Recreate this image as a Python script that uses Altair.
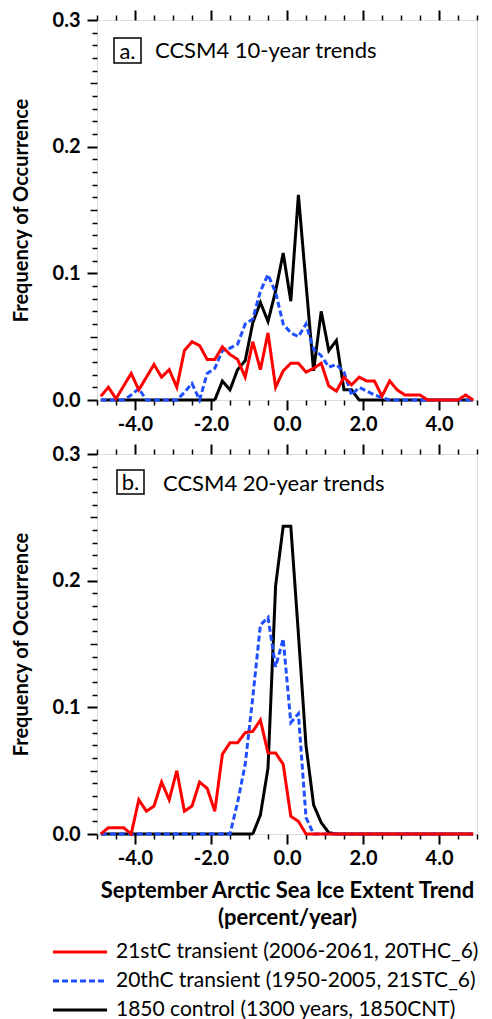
import altair as alt
import pandas as pd

# ---------------- data ----------------
trend = [-4.9, -4.7, -4.5, -4.3, -4.1, -3.9, -3.7, -3.5, -3.3, -3.1,
         -2.9, -2.7, -2.5, -2.3, -2.1, -1.9, -1.7, -1.5, -1.3, -1.1,
         -0.9, -0.7, -0.5, -0.3, -0.1, 0.1, 0.3, 0.5, 0.7, 0.9,
         1.1, 1.3, 1.5, 1.7, 1.9, 2.1, 2.3, 2.5, 2.7, 2.9,
         3.1, 3.3, 3.5, 3.7, 3.9, 4.1, 4.3, 4.5, 4.7, 4.9]

# panel a: 10-year trends
red10 = [0.003, 0.010, 0.001, 0.011, 0.021, 0.008, 0.018, 0.028, 0.018, 0.024,
         0.010, 0.039, 0.046, 0.043, 0.032, 0.032, 0.042, 0.036, 0.032, 0.018,
         0.046, 0.024, 0.053, 0.010, 0.023, 0.029, 0.029, 0.022, 0.025, 0.029,
         0.011, 0.007, 0.018, 0.012, 0.018, 0.015, 0.015, 0.003, 0.015, 0.008,
         0.004, 0.004, 0.004, 0.0, 0.0, 0.0, 0.0, 0.0, 0.004, 0.0]
blue10 = [0.0, 0.0, 0.0, 0.0, 0.004, 0.009, 0.0, 0.0, 0.0, 0.0,
          0.0, 0.006, 0.013, 0.0, 0.021, 0.025, 0.039, 0.041, 0.044, 0.060,
          0.064, 0.086, 0.099, 0.085, 0.060, 0.053, 0.050, 0.060, 0.040, 0.035,
          0.026, 0.028, 0.022, 0.004, 0.010, 0.007, 0.004, 0.002, 0.0, 0.0,
          0.0, 0.0, 0.0, 0.0, 0.0, 0.0, 0.0, 0.0, 0.0, 0.0]
black10 = [0.0, 0.0, 0.0, 0.0, 0.0, 0.0, 0.0, 0.0, 0.0, 0.0,
           0.0, 0.0, 0.0, 0.0, 0.0, 0.0, 0.015, 0.008, 0.024, 0.031,
           0.061, 0.077, 0.062, 0.086, 0.116, 0.078, 0.162, 0.092, 0.023, 0.070,
           0.039, 0.047, 0.008, 0.008, 0.0, 0.0, 0.0, 0.0, 0.0, 0.0,
           0.0, 0.0, 0.0, 0.0, 0.0, 0.0, 0.0, 0.0, 0.0, 0.0]

# panel b: 20-year trends
red20 = [0.0, 0.005, 0.005, 0.005, 0.0, 0.027, 0.018, 0.022, 0.041, 0.027,
         0.050, 0.018, 0.022, 0.041, 0.036, 0.018, 0.063, 0.072, 0.072, 0.080,
         0.081, 0.090, 0.064, 0.064, 0.055, 0.014, 0.010, 0.0, 0.0, 0.0,
         0.0, 0.0, 0.0, 0.0, 0.0, 0.0, 0.0, 0.0, 0.0, 0.0,
         0.0, 0.0, 0.0, 0.0, 0.0, 0.0, 0.0, 0.0, 0.0, 0.0]
blue20 = [0.0, 0.0, 0.0, 0.0, 0.0, 0.0, 0.0, 0.0, 0.0, 0.0,
          0.0, 0.0, 0.0, 0.0, 0.0, 0.0, 0.0, 0.0, 0.025, 0.055,
          0.108, 0.165, 0.171, 0.132, 0.154, 0.088, 0.095, 0.013, 0.0, 0.0,
          0.0, 0.0, 0.0, 0.0, 0.0, 0.0, 0.0, 0.0, 0.0, 0.0,
          0.0, 0.0, 0.0, 0.0, 0.0, 0.0, 0.0, 0.0, 0.0, 0.0]
black20 = [0.0, 0.0, 0.0, 0.0, 0.0, 0.0, 0.0, 0.0, 0.0, 0.0,
           0.0, 0.0, 0.0, 0.0, 0.0, 0.0, 0.0, 0.0, 0.0, 0.0,
           0.0, 0.015, 0.052, 0.196, 0.243, 0.243, 0.158, 0.070, 0.023, 0.009,
           0.001, 0.0, 0.0, 0.0, 0.0, 0.0, 0.0, 0.0, 0.0, 0.0,
           0.0, 0.0, 0.0, 0.0, 0.0, 0.0, 0.0, 0.0, 0.0, 0.0]

series_names = ["21stC transient (2006-2061, 20THC_6)",
                "20thC transient (1950-2005, 21STC_6)",
                "1850 control (1300 years, 1850CNT)"]
series_colors = ["#ff0000", "#1f4fff", "#000000"]
series_dashes = [[1, 0], [6, 3], [1, 0]]

panel_tags = ["a.", "b."]
panel_titles = ["CCSM4 10-year trends", "CCSM4 20-year trends"]

x_major = [-4, -2, 0, 2, 4]
x_minor = [-5, -4.5, -3.5, -3, -2.5, -1.5, -1, -0.5, 0.5, 1, 1.5, 2.5, 3, 3.5, 4.5, 5]
y_major = [0.0, 0.1, 0.2, 0.3]
y_mid = [0.05, 0.15, 0.25]
y_minor = [round(i * 0.01, 2) for i in range(31) if i % 5 != 0]

FONT = "Lato"
LBL = "datum.value == 0 ? '0.0' : (datum.value < 0 ? '-' : '') + format(abs(datum.value), '.1f')"

xs = alt.Scale(domain=[-5, 5], nice=False, zero=False)
ys = alt.Scale(domain=[0, 0.3], nice=False, zero=True)
cs = alt.Scale(domain=series_names, range=series_colors)
ds = alt.Scale(domain=series_names, range=series_dashes)


def make_df(red, blue, black):
    rows = []
    for name, vals in zip(series_names, [red, blue, black]):
        for t, v in zip(trend, vals):
            rows.append({"trend": t, "freq": v, "series": name})
    return pd.DataFrame(rows)


def tick_axis(orient, values, size, width=1.5):
    return alt.Axis(orient=orient, values=values, tickSize=size, tickWidth=width,
                    tickColor="black", labels=False, domain=False, grid=False, title=None)


def panel(df, idx, show_xtitle):
    xtitle = ["September Arctic Sea Ice Extent Trend", "(percent/year)"] if show_xtitle else None
    x_main_axis = alt.Axis(orient="bottom", values=x_major, labelExpr=LBL, tickSize=10, tickWidth=2,
                           tickColor="black", domain=False, grid=False, labelFont=FONT,
                           labelFontSize=20, labelFontWeight="bold", labelColor="black",
                           labelPadding=4, title=xtitle, titleFont=FONT, titleFontSize=22,
                           titleFontWeight="bold", titleColor="black", titlePadding=12,
                           titleLineHeight=27)
    y_main_axis = alt.Axis(orient="left", values=y_major, format=".1f", tickSize=10, tickWidth=2,
                           tickColor="black", domain=False, grid=False, labelFont=FONT,
                           labelFontSize=20, labelFontWeight="bold", labelColor="black",
                           labelPadding=7, title="Frequency of Occurrence", titleFont=FONT,
                           titleFontSize=20, titleFontWeight="bold", titleColor="black",
                           titlePadding=21)
    layers = []
    # draw black first, then blue, then red on top
    for k, name in enumerate([series_names[2], series_names[1], series_names[0]]):
        enc = dict(
            x=alt.X("trend:Q", scale=xs, axis=x_main_axis if k == 0 else None),
            y=alt.Y("freq:Q", scale=ys, axis=y_main_axis if k == 0 else None),
            color=alt.Color("series:N", scale=cs, legend=None),
            strokeDash=alt.StrokeDash("series:N", scale=ds, legend=None),
        )
        layers.append(
            alt.Chart(df).transform_filter(alt.datum.series == name)
            .mark_line(strokeWidth=3, clip=False).encode(**enc)
        )
    ghost = alt.Chart(df).mark_point(opacity=0)
    layers += [
        ghost.encode(x=alt.X("trend:Q", scale=xs, axis=tick_axis("bottom", x_minor, 5)),
                     y=alt.Y("freq:Q", scale=ys, axis=None)),
        ghost.encode(x=alt.X("trend:Q", scale=xs, axis=tick_axis("top", x_major, 10, 2)),
                     y=alt.Y("freq:Q", scale=ys, axis=None)),
        ghost.encode(x=alt.X("trend:Q", scale=xs, axis=tick_axis("top", x_minor, 5)),
                     y=alt.Y("freq:Q", scale=ys, axis=None)),
        ghost.encode(x=alt.X("trend:Q", scale=xs, axis=None),
                     y=alt.Y("freq:Q", scale=ys, axis=tick_axis("left", y_mid, 7))),
        ghost.encode(x=alt.X("trend:Q", scale=xs, axis=None),
                     y=alt.Y("freq:Q", scale=ys, axis=tick_axis("left", y_minor, 5))),
    ]
    lab = pd.DataFrame({"tag": [panel_tags[idx]], "title": [panel_titles[idx]]})
    bx = [17, 44] if idx == 0 else [20, 47]
    by = [18, 43] if idx == 0 else [16, 40]
    tx = 58 if idx == 0 else 66
    ty = 31 if idx == 0 else 30
    base = alt.Chart(lab)
    layers += [
        base.mark_rect(fill="white", stroke="black", strokeWidth=1.5).encode(
            x=alt.value(bx[0]), x2=alt.value(bx[1]), y=alt.value(by[0]), y2=alt.value(by[1])),
        base.mark_text(font=FONT, fontSize=22, color="black", align="center", baseline="middle").encode(
            x=alt.value((bx[0] + bx[1]) / 2), y=alt.value((by[0] + by[1]) / 2 + 1), text="tag:N"),
        base.mark_text(font=FONT, fontSize=22, color="black", align="left", baseline="middle").encode(
            x=alt.value(tx), y=alt.value(ty), text="title:N"),
    ]
    return alt.layer(*layers).resolve_axis(x="independent", y="independent").properties(
        width=380, height=380)


df_a = make_df(red10, blue10, black10)
df_b = make_df(red20, blue20, black20)

pa = panel(df_a, 0, False)
pb = panel(df_b, 1, True)

# legend drawn as its own small view, entries placed by a point scale
leg_df = pd.DataFrame({"series": series_names})
ly = alt.Y("series:N", scale=alt.Scale(type="point", domain=series_names, range=[19, 77], padding=0),
           axis=None)
leg_lines = alt.Chart(leg_df).mark_rule(strokeWidth=3).encode(
    x=alt.value(-44), x2=alt.value(10), y=ly,
    color=alt.Color("series:N", scale=cs, legend=None),
    strokeDash=alt.StrokeDash("series:N", scale=ds, legend=None),
)
leg_text = alt.Chart(leg_df).mark_text(font=FONT, fontSize=21, color="black", align="left",
                                       baseline="middle").encode(
    x=alt.value(19), y=ly, text="series:N")
legend_view = alt.layer(leg_lines, leg_text).properties(
    width=380, height=78, view=alt.ViewBackground(strokeOpacity=0))

panels = alt.vconcat(pa, pb, spacing=7)
chart = alt.vconcat(panels, legend_view, spacing=4).properties(
    padding={"left": 10, "top": 8, "right": 0, "bottom": 0}
).configure_view(stroke="black", strokeWidth=2).configure(background="white")

chart.save("out.html", embed_options={"renderer": "svg", "actions": False})
